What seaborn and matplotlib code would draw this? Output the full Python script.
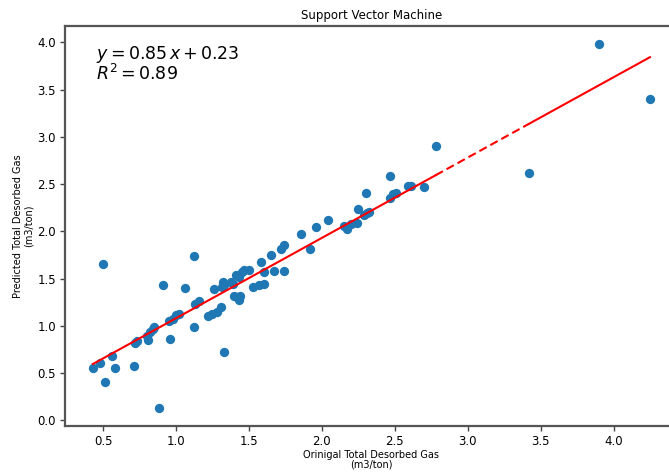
import numpy as np
import pandas as pd
import matplotlib
matplotlib.use("Agg")
import matplotlib.pyplot as plt
import seaborn as sns

# ---- data ----
original = [0.43, 0.48, 0.50, 0.51, 0.56, 0.58, 0.71, 0.72, 0.73, 0.80,
            0.81, 0.82, 0.84, 0.85, 0.88, 0.91, 0.95, 0.96, 0.98, 1.00,
            1.02, 1.06, 1.125, 1.125, 1.13, 1.16, 1.22, 1.25, 1.28, 1.31,
            1.26, 1.315, 1.32, 1.33, 1.33, 1.375, 1.39, 1.40, 1.42, 1.43,
            1.44, 1.41, 1.43, 1.455, 1.465, 1.50, 1.53, 1.57, 1.60, 1.58,
            1.60, 1.65, 1.67, 1.72, 1.74, 1.74, 1.86, 1.92, 1.96, 2.04,
            2.15, 2.17, 2.20, 2.24, 2.25, 2.29, 2.31, 2.32, 2.30, 2.47,
            2.49, 2.51, 2.47, 2.59, 2.61, 2.70, 2.78, 3.42, 3.90, 4.25]
predicted = [0.555, 0.61, 1.65, 0.41, 0.685, 0.55, 0.575, 0.82, 0.835, 0.89,
             0.845, 0.935, 0.97, 0.985, 0.135, 1.435, 1.05, 0.855, 1.075, 1.11,
             1.13, 1.40, 1.735, 0.99, 1.23, 1.26, 1.10, 1.13, 1.145, 1.20,
             1.39, 1.41, 1.46, 1.43, 0.72, 1.46, 1.445, 1.32, 1.30, 1.275,
             1.32, 1.54, 1.515, 1.57, 1.59, 1.59, 1.41, 1.43, 1.445, 1.675,
             1.57, 1.745, 1.585, 1.815, 1.85, 1.585, 1.97, 1.815, 2.05, 2.12,
             2.06, 2.02, 2.08, 2.09, 2.24, 2.175, 2.19, 2.20, 2.40, 2.355,
             2.39, 2.41, 2.58, 2.48, 2.48, 2.47, 2.90, 2.62, 3.98, 3.40]
slope = 0.85
intercept = 0.23
r_squared = 0.89

title = "Support Vector Machine"
x_label = "Orinigal Total Desorbed Gas\n(m3/ton)"
y_label = "Predicted Total Desorbed Gas\n(m3/ton)"

df = pd.DataFrame({"orig": original, "pred": predicted})

fig = plt.figure(figsize=(6.69, 4.73), dpi=100)
ax = fig.add_axes([0.0972, 0.100, 0.916, 0.845])

sns.scatterplot(data=df, x="orig", y="pred", ax=ax, s=45, color="#1f77b4",
                linewidth=0, zorder=2)

# fitted line: solid where data is dense, dashed across the largest gap
xs = np.sort(df["orig"].values)
gaps = np.diff(xs)
gi = int(np.argmax(gaps))
lo, hi = xs[gi], xs[gi + 1]
f = lambda v: slope * np.asarray(v) + intercept
for seg, style in [((xs[0], lo), "-"), ((lo, hi), "--"), ((hi, xs[-1]), "-")]:
    sx = np.array(seg)
    if style == "--":
        ax.plot(sx, f(sx), color="red", lw=1.5, linestyle=(0, (4, 2)), zorder=3)
    else:
        ax.plot(sx, f(sx), color="red", lw=1.5, zorder=3)

ax.text(0.05, 0.955, f"$y = {slope:.2f}\\,x + {intercept:.2f}$\n$R^2 = {r_squared:.2f}$",
        transform=ax.transAxes, va="top", ha="left", fontsize=12.5, linespacing=0.95)

ax.set_title(title, fontsize=8.5, pad=5)
ax.set_xlabel(x_label, fontsize=7, labelpad=1.5, linespacing=1.0)
ax.set_ylabel(y_label, fontsize=7, labelpad=3, linespacing=1.0)
ax.tick_params(labelsize=8.5, color="#444444", width=1.0, length=3.5, pad=3)
ax.set_xticks([0.5, 1.0, 1.5, 2.0, 2.5, 3.0, 3.5, 4.0])
ax.set_yticks([0.0, 0.5, 1.0, 1.5, 2.0, 2.5, 3.0, 3.5, 4.0])
for sp in ax.spines.values():
    sp.set_color("#555555")
    sp.set_linewidth(1.6)

ax.margins(0.05)
fig.savefig("out.png", dpi=100)
